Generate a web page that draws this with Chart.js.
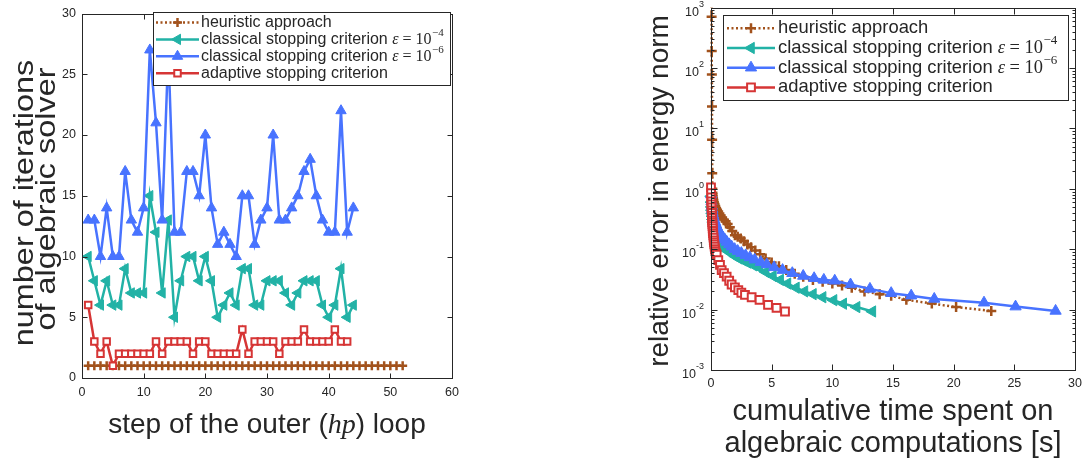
<!DOCTYPE html>
<html>
<head>
<meta charset="utf-8">
<script src="https://cdn.jsdelivr.net/npm/chart.js@4.4.0/dist/chart.umd.min.js"></script>
<style>
  html, body { margin: 0; padding: 0; background: #fff; }
  #wrap { position: relative; width: 1088px; height: 463px; overflow: hidden; }
  .pane { position: absolute; top: 0; width: 544px; height: 463px; }
</style>
</head>
<body>
<div id="wrap">
  <div class="pane" style="left:0"><canvas id="iterChart" width="544" height="463"></canvas></div>
  <div class="pane" style="left:544px"><canvas id="errorChart" width="544" height="463"></canvas></div>
</div>
<script>
// ---- left: iterations of the algebraic solver per outer step ----
const itHeuristic = [1,1,1,1,1,1,1,1,1,1,1,1,1,1,1,1,1,1,1,1,1,1,1,1,1,1,
                     1,1,1,1,1,1,1,1,1,1,1,1,1,1,1,1,1,1,1,1,1,1,1,1,1,1];
const itClassical4 = [10,8,6,8,6,6,9,7,7,7,15,12,7,13,5,8,10,10,8,10,8,5,
                      6,7,6,9,9,6,6,8,8,8,7,6,7,8,8,8,6,5,6,9,5,6];
const itClassical6 = [13,13,10,14,10,10,17,13,12,14,27,21,13,27,12,12,17,17,15,20,14,11,
                      12,11,10,15,15,11,13,14,20,13,13,14,15,17,18,15,13,12,12,22,12,14];
const itAdaptive = [6,3,2,3,1,2,2,2,2,2,2,3,2,3,3,3,3,2,3,3,2,2,
                    2,2,2,4,2,3,3,3,3,2,3,3,3,4,3,3,3,3,4,3,3];

const stepTicks = [0, 10, 20, 30, 40, 50, 60];
const iterTicks = [0, 5, 10, 15, 20, 25, 30];

// ---- right: error vs cumulative time ----
const timeHeuristic = [0.04,0.05,0.06,0.07,0.08,0.09,0.1,0.11,0.12,0.13,0.14,0.17,0.2,0.24,0.29,0.35,0.42,0.5,
                       0.59,0.69,0.8,0.92,1.05,1.2,1.37,1.55,1.75,1.97,2.2,2.45,2.72,3.0,3.3,3.65,4.05,4.5,
                       5.0,5.6,6.2,6.9,7.6,8.4,9.2,10.0,10.8,11.6,12.65,13.9,14.85,16.1,18.2,20.2,23.1];
const errHeuristic = [1500,700,190,78,23,6.5,1.8,1.0,0.86,0.8,0.75,0.7,0.65,0.6,0.56,0.52,0.48,0.45,
                      0.42,0.39,0.36,0.33,0.31,0.29,0.26,0.23,0.2,0.17,0.16,0.15,0.135,0.12,0.108,0.095,0.082,0.07,
                      0.06,0.052,0.045,0.039,0.035,0.031,0.029,0.027,0.025,0.023,0.02,0.018,0.017,0.0145,0.0126,0.011,0.0095];

const timeClassical4 = [0.02,0.04,0.06,0.08,0.1,0.13,0.16,0.19,0.22,0.26,0.3,0.34,0.38,0.43,0.48,
                        0.54,0.6,0.67,0.75,0.83,0.92,1.02,1.13,1.3,1.5,1.75,2.0,2.3,2.65,3.0,
                        3.5,4.0,4.5,5.1,5.7,6.3,7.0,7.7,8.4,9.2,10.1,10.9,12.0,13.3];
const errClassical4 = [0.75,0.6,0.5,0.44,0.39,0.35,0.31,0.28,0.26,0.24,0.22,0.2,0.185,0.17,0.16,
                       0.15,0.14,0.13,0.122,0.116,0.11,0.105,0.1,0.096,0.09,0.083,0.076,0.07,0.065,0.06,
                       0.054,0.049,0.042,0.036,0.031,0.027,0.023,0.02,0.018,0.016,0.0143,0.0125,0.011,0.0093];

const timeClassical6 = [0.02,0.04,0.07,0.1,0.13,0.17,0.21,0.26,0.31,0.37,0.43,0.5,0.58,0.67,0.77,
                        0.88,1.0,1.15,1.3,1.5,1.7,1.95,2.2,2.5,2.85,3.2,3.6,4.1,4.6,5.2,
                        5.9,6.7,7.6,8.5,9.3,10.2,11.5,13.1,14.85,16.5,18.4,22.5,25.1,28.4];
const errClassical6 = [0.8,0.62,0.52,0.46,0.41,0.37,0.34,0.31,0.29,0.27,0.25,0.23,0.21,0.195,0.18,
                       0.168,0.155,0.143,0.132,0.12,0.11,0.1,0.093,0.086,0.079,0.073,0.067,0.061,0.056,0.05,
                       0.045,0.04,0.036,0.033,0.031,0.03,0.026,0.022,0.0187,0.017,0.015,0.013,0.0112,0.0095];

const timeAdaptive = [0.0,0.01,0.02,0.03,0.04,0.05,0.06,0.07,0.08,0.09,0.1,0.11,0.12,0.13,0.14,
                      0.15,0.17,0.19,0.21,0.23,0.25,0.27,0.3,0.33,0.36,0.4,0.47,0.6,0.74,0.88,
                      1.07,1.29,1.5,1.7,1.97,2.25,2.5,2.8,3.35,4.0,4.7,5.4,6.1];
const errAdaptive = [1.05,0.85,0.72,0.62,0.55,0.49,0.44,0.40,0.36,0.33,0.30,0.28,0.26,0.24,0.22,
                     0.20,0.185,0.17,0.155,0.14,0.13,0.12,0.11,0.1,0.093,0.086,0.081,0.066,0.055,0.045,
                     0.040,0.035,0.030,0.026,0.0234,0.021,0.019,0.0175,0.016,0.0145,0.012,0.0107,0.0093];

const timeTicks = [0, 5, 10, 15, 20, 25, 30];
const errDecades = [1e-3, 1e-2, 1e-1, 1, 10, 100, 1000];
const minorSteps = [2, 3, 4, 5, 6, 7, 8, 9];

const labels = [
  "heuristic approach",
  "classical stopping criterion ε = 10^−4",
  "classical stopping criterion ε = 10^−6",
  "adaptive stopping criterion"
];

const AXIS = "#262626";
const BROWN = "#A2521C";
const TEAL = "#22B2A6";
const BLUE = "#4873FF";
const RED = "#D63535";
const SANS = "'Liberation Sans', Arial, sans-serif";
const SERIF = "'Liberation Serif', 'DejaVu Serif', serif";

Chart.defaults.font.family = SANS;
Chart.defaults.color = AXIS;

const byStep = vals => vals.map((v, i) => ({ x: i + 1, y: v }));
const byTime = (xs, ys) => xs.map((x, i) => ({ x: x, y: ys[i] }));

// matlab-like box with inward ticks
const matlabAxes = {
  id: "matlabAxes",
  afterDatasetsDraw(chart, args, o) {
    const { ctx, chartArea: a } = chart;
    const xs = chart.scales.x, ys = chart.scales.y;
    const L = Math.round(a.left) + 0.5, R = Math.round(a.right) + 0.5;
    const T = Math.round(a.top) + 0.5, B = Math.round(a.bottom) + 0.5;
    ctx.save();
    ctx.strokeStyle = AXIS;
    ctx.lineWidth = 1;
    ctx.beginPath();
    o.xTicks.forEach(v => {
      const p = Math.round(xs.getPixelForValue(v)) + 0.5;
      ctx.moveTo(p, B); ctx.lineTo(p, B - o.len);
      ctx.moveTo(p, T); ctx.lineTo(p, T + o.len);
    });
    o.yTicks.forEach(v => {
      const p = Math.round(ys.getPixelForValue(v)) + 0.5;
      ctx.moveTo(L, p); ctx.lineTo(L + o.len, p);
      ctx.moveTo(R, p); ctx.lineTo(R - o.len, p);
    });
    (o.yMinor || []).forEach(v => {
      const p = Math.round(ys.getPixelForValue(v)) + 0.5;
      ctx.moveTo(L, p); ctx.lineTo(L + o.minorLen, p);
      ctx.moveTo(R, p); ctx.lineTo(R - o.minorLen, p);
    });
    ctx.stroke();
    ctx.strokeRect(L, T, R - L, B - T);

    if (o.powerLabels) {
      ctx.fillStyle = AXIS;
      ctx.textBaseline = "alphabetic";
      ctx.textAlign = "left";
      o.yTicks.forEach(v => {
        const p = ys.getPixelForValue(v);
        const e = Math.round(Math.log10(v));
        const ex = e < 0 ? "-" + (-e) : String(e);
        ctx.font = "12.5px " + SANS;
        const wb = ctx.measureText("10").width;
        ctx.font = "9px " + SANS;
        const we = ctx.measureText(ex).width;
        const x0 = a.left - 7 - wb - we;
        ctx.font = "12.5px " + SANS;
        ctx.fillText("10", x0, p + 8);
        ctx.font = "9px " + SANS;
        ctx.fillText(ex, x0 + wb, p - 1);
      });
    }
    ctx.restore();
  }
};

function drawMarker(ctx, ds, x, y) {
  ctx.fillStyle = ds.pointBackgroundColor;
  ctx.strokeStyle = ds.pointBorderColor || ds.borderColor;
  ctx.lineWidth = ds.pointBorderWidth;
  Chart.helpers.drawPoint(ctx, {
    pointStyle: ds.pointStyle,
    rotation: ds.pointRotation || 0,
    radius: ds.pointRadius,
    borderWidth: ds.pointBorderWidth
  }, x, y);
}

// legend box inside the axes, drawn on top of the data
const boxLegend = {
  id: "boxLegend",
  afterDraw(chart, args, o) {
    const ctx = chart.ctx;
    ctx.save();
    ctx.fillStyle = "#fff";
    ctx.fillRect(o.x, o.y, o.w, o.h);
    ctx.strokeStyle = AXIS;
    ctx.lineWidth = 1;
    ctx.strokeRect(o.x + 0.5, o.y + 0.5, o.w, o.h);

    chart.data.datasets.forEach((ds, i) => {
      const cy = o.y + o.first + i * o.gap;
      ctx.strokeStyle = ds.borderColor;
      ctx.lineWidth = ds.borderWidth;
      ctx.setLineDash(ds.borderDash || []);
      ctx.beginPath();
      ctx.moveTo(o.x + o.lineFrom, cy);
      ctx.lineTo(o.x + o.lineTo, cy);
      ctx.stroke();
      ctx.setLineDash([]);
      drawMarker(ctx, ds, o.x + (o.lineFrom + o.lineTo) / 2, cy);

      ctx.fillStyle = AXIS;
      ctx.textBaseline = "middle";
      ctx.textAlign = "left";
      let tx = o.x + o.textAt;
      const parts = ds.label.split(" ε = 10^");
      ctx.font = o.size + "px " + SANS;
      ctx.fillText(parts[0], tx, cy);
      if (parts.length > 1) {
        tx += ctx.measureText(parts[0] + " ").width;
        ctx.font = "italic " + o.size + "px " + SERIF;
        ctx.fillText("ε", tx, cy);
        tx += ctx.measureText("ε").width;
        ctx.font = o.size + "px " + SERIF;
        ctx.fillText(" = 10", tx, cy);
        tx += ctx.measureText(" = 10").width;
        ctx.font = Math.round(o.size * 0.7) + "px " + SERIF;
        ctx.fillText(parts[1], tx + 0.5, cy - o.size * 0.38);
      }
    });
    ctx.restore();
  }
};

// axis titles, so that lines and mixed fonts can sit exactly
const axisTitles = {
  id: "axisTitles",
  afterDraw(chart, args, o) {
    const ctx = chart.ctx;
    o.items.forEach(item => {
      ctx.save();
      ctx.translate(item.x, item.y);
      if (item.rotate) ctx.rotate(-Math.PI / 2);
      if (item.stretch) ctx.scale(item.stretch, 1);
      ctx.fillStyle = AXIS;
      ctx.textBaseline = "alphabetic";
      ctx.textAlign = "left";
      const parts = typeof item.text === "string" ? [{ text: item.text }] : item.text;
      let total = 0;
      parts.forEach(p => { ctx.font = p.font || item.font; total += ctx.measureText(p.text).width; });
      let x = -total / 2;
      parts.forEach(p => {
        ctx.font = p.font || item.font;
        ctx.fillText(p.text, x, 0);
        x += ctx.measureText(p.text).width;
      });
      ctx.restore();
    });
  }
};

const tickFont = { size: 12.5, family: SANS };

// ---------- left chart ----------
new Chart(document.getElementById("iterChart"), {
  type: "line",
  data: {
    datasets: [
      {
        label: labels[0], data: byStep(itHeuristic), order: 4,
        borderColor: BROWN, backgroundColor: BROWN, borderWidth: 2.5, borderDash: [2, 2.5],
        pointStyle: "cross", pointRadius: 4.5, pointBorderWidth: 2.5,
        pointBackgroundColor: BROWN, pointBorderColor: BROWN
      },
      {
        label: labels[1], data: byStep(itClassical4), order: 3,
        borderColor: TEAL, backgroundColor: TEAL, borderWidth: 2.5,
        pointStyle: "triangle", pointRotation: -90, pointRadius: 6, pointBorderWidth: 1,
        pointBackgroundColor: TEAL, pointBorderColor: TEAL
      },
      {
        label: labels[2], data: byStep(itClassical6), order: 2,
        borderColor: BLUE, backgroundColor: BLUE, borderWidth: 2.5,
        pointStyle: "triangle", pointRadius: 6, pointBorderWidth: 1,
        pointBackgroundColor: BLUE, pointBorderColor: BLUE
      },
      {
        label: labels[3], data: byStep(itAdaptive), order: 1,
        borderColor: RED, backgroundColor: "#fff", borderWidth: 2.5,
        pointStyle: "rect", pointRadius: 4.6, pointBorderWidth: 2,
        pointBackgroundColor: "#fff", pointBorderColor: RED
      }
    ]
  },
  options: {
    responsive: false,
    animation: false,
    events: [],
    layout: { padding: { top: 9, right: 92, left: 0, bottom: 0 } },
    elements: { line: { tension: 0 } },
    plugins: {
      legend: { display: false },
      tooltip: { enabled: false },
      matlabAxes: { xTicks: stepTicks, yTicks: iterTicks, len: 5 },
      boxLegend: { x: 153, y: 12, w: 297, h: 73, first: 10.5, gap: 16.9,
                   lineFrom: 3, lineTo: 46, textAt: 48, size: 16 },
      axisTitles: {
        items: [
          { text: "number of iterations", x: 33, y: 203, rotate: true, stretch: 1.2, font: "27px " + SANS },
          { text: "of algebraic solver", x: 55, y: 199, rotate: true, stretch: 1.2, font: "27px " + SANS },
          { text: [
              { text: "step of the outer (" },
              { text: "hp", font: "italic 28px " + SERIF },
              { text: ") loop" }
            ], x: 267, y: 433, font: "28px " + SANS }
        ]
      }
    },
    scales: {
      x: {
        type: "linear", min: 0, max: 60,
        afterBuildTicks: s => { s.ticks = stepTicks.map(v => ({ value: v })); },
        ticks: { font: tickFont, color: AXIS, padding: 7, maxRotation: 0 },
        grid: { display: false, drawTicks: false },
        border: { display: false },
        afterFit: s => { s.height = 85; }
      },
      y: {
        type: "linear", min: 0, max: 30,
        afterBuildTicks: s => { s.ticks = iterTicks.map(v => ({ value: v })); },
        ticks: { font: tickFont, color: AXIS, padding: 6 },
        grid: { display: false, drawTicks: false },
        border: { display: false },
        afterFit: s => { s.width = 82; }
      }
    }
  },
  plugins: [matlabAxes, boxLegend, axisTitles]
});

// ---------- right chart ----------
const errMinor = [];
errDecades.slice(0, -1).forEach(d => minorSteps.forEach(m => errMinor.push(d * m)));

new Chart(document.getElementById("errorChart"), {
  type: "line",
  data: {
    datasets: [
      {
        label: labels[0], data: byTime(timeHeuristic, errHeuristic), order: 4,
        borderColor: BROWN, backgroundColor: BROWN, borderWidth: 2.5, borderDash: [2, 2.5],
        pointStyle: "cross", pointRadius: 5, pointBorderWidth: 2.5,
        pointBackgroundColor: BROWN, pointBorderColor: BROWN,
        clip: { left: 10, top: 0, right: 10, bottom: 10 }
      },
      {
        label: labels[1], data: byTime(timeClassical4, errClassical4), order: 3,
        borderColor: TEAL, backgroundColor: TEAL, borderWidth: 2.5,
        pointStyle: "triangle", pointRotation: -90, pointRadius: 6.5, pointBorderWidth: 1,
        pointBackgroundColor: TEAL, pointBorderColor: TEAL,
        clip: { left: 10, top: 0, right: 10, bottom: 10 }
      },
      {
        label: labels[2], data: byTime(timeClassical6, errClassical6), order: 2,
        borderColor: BLUE, backgroundColor: BLUE, borderWidth: 2.5,
        pointStyle: "triangle", pointRadius: 6.5, pointBorderWidth: 1,
        pointBackgroundColor: BLUE, pointBorderColor: BLUE,
        clip: { left: 10, top: 0, right: 10, bottom: 10 }
      },
      {
        label: labels[3], data: byTime(timeAdaptive, errAdaptive), order: 1,
        borderColor: RED, backgroundColor: "#fff", borderWidth: 2.5,
        pointStyle: "rect", pointRadius: 5.5, pointBorderWidth: 2,
        pointBackgroundColor: "#fff", pointBorderColor: RED,
        clip: { left: 10, top: 0, right: 10, bottom: 10 }
      }
    ]
  },
  options: {
    responsive: false,
    animation: false,
    events: [],
    layout: { padding: { top: 7, right: 13, left: 0, bottom: 0 } },
    elements: { line: { tension: 0 } },
    plugins: {
      legend: { display: false },
      tooltip: { enabled: false },
      matlabAxes: { xTicks: timeTicks, yTicks: errDecades, yMinor: errMinor, len: 6, minorLen: 3, powerLabels: true },
      boxLegend: { x: 179, y: 15, w: 345, h: 85, first: 13.3, gap: 19.7,
                   lineFrom: 4, lineTo: 52, textAt: 55, size: 18.4 },
      axisTitles: {
        items: [
          { text: "relative error in energy norm", x: 124, y: 191, rotate: true, font: "28px " + SANS },
          { text: "cumulative time spent on", x: 349, y: 420, font: "29px " + SANS },
          { text: "algebraic computations [s]", x: 349, y: 452, font: "29px " + SANS }
        ]
      }
    },
    scales: {
      x: {
        type: "linear", min: 0, max: 30,
        afterBuildTicks: s => { s.ticks = timeTicks.map(v => ({ value: v })); },
        ticks: { font: tickFont, color: AXIS, padding: 6, maxRotation: 0 },
        grid: { display: false, drawTicks: false },
        border: { display: false },
        afterFit: s => { s.height = 93; }
      },
      y: {
        type: "logarithmic", min: 1e-3, max: 1e3,
        afterBuildTicks: s => { s.ticks = errDecades.map(v => ({ value: v })); },
        ticks: { display: false },
        grid: { display: false, drawTicks: false },
        border: { display: false },
        afterFit: s => { s.width = 167; }
      }
    }
  },
  plugins: [matlabAxes, boxLegend, axisTitles]
});
</script>
</body>
</html>
